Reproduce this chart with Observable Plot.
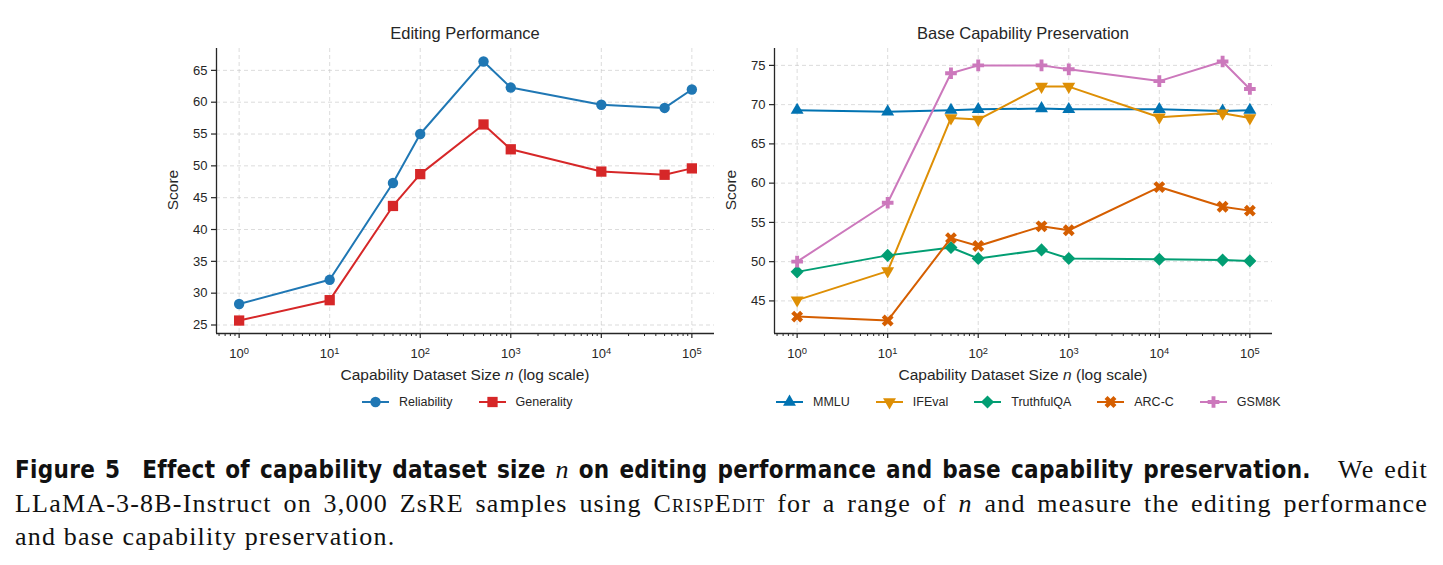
<!DOCTYPE html>
<html>
<head>
<meta charset="utf-8">
<script src="https://cdn.jsdelivr.net/npm/d3@7"></script>
<script src="https://cdn.jsdelivr.net/npm/@observablehq/plot@0.6"></script>
<style>
  html, body { margin: 0; padding: 0; background: #fff; }
  body { width: 1443px; height: 565px; position: relative; overflow: hidden;
         font-family: "Liberation Sans", Arial, Helvetica, sans-serif; color: #262626; }
  .abs { position: absolute; white-space: nowrap; }
  .title { font-size: 16.5px; line-height: 20px; transform: translateX(-50%); }
  .xlabel { font-size: 15.5px; line-height: 20px; transform: translateX(-50%); }
  .ylabel { font-size: 15.5px; line-height: 20px; transform: translate(-50%, -50%) rotate(-90deg); }
  .legend { display: flex; align-items: center; font-size: 12.5px; height: 16px; }
  .legend .item { display: flex; align-items: center; margin-right: 26px; }
  .legend svg { margin-right: 10px; overflow: visible; }
  .cap { left: 15px; width: 1413px; font-family: "Liberation Serif", "DejaVu Serif", serif;
         font-size: 26px; line-height: 33px; color: #111; letter-spacing: 1.2px; }
  .just { text-align: justify; text-align-last: justify; }
  .sfb { font-family: "Liberation Sans Narrow", "DejaVu Sans Condensed", "Liberation Sans", sans-serif;
         font-stretch: condensed; font-weight: bold; letter-spacing: 0.3px; font-size: 24px; }
  .sc { font-variant: small-caps; }
</style>
</head>
<body>
<div id="left" class="abs" style="left:150px; top:40px;"></div>
<div id="right" class="abs" style="left:708px; top:40px;"></div>

<div class="abs title" style="left:465px; top:23px;">Editing Performance</div>
<div class="abs title" style="left:1023px; top:23px;">Base Capability Preservation</div>

<div class="abs ylabel" style="left:173px; top:190px;">Score</div>
<div class="abs ylabel" style="left:731px; top:190px;">Score</div>

<div class="abs xlabel" style="left:465px; top:365px;">Capability Dataset Size <i>n</i> (log scale)</div>
<div class="abs xlabel" style="left:1023px; top:365px;">Capability Dataset Size <i>n</i> (log scale)</div>

<div id="legLeft" class="abs legend" style="left:362px; top:394px;"></div>
<div id="legRight" class="abs legend" style="left:776px; top:394px;"></div>

<div class="abs cap just" style="top:453px;"><span class="sfb">Figure 5&emsp;Effect of capability dataset size <i style="font-family:'Liberation Serif',serif;font-weight:normal;font-size:26px;">n</i> on editing performance and base capability preservation.</span>&emsp;We edit</div>
<div class="abs cap just" style="top:487px;">LLaMA-3-8B-Instruct on 3,000 ZsRE samples using <span class="sc">CrispEdit</span> for a range of <i>n</i> and measure the editing performance</div>
<div class="abs cap" style="top:520px;">and base capability preservation.</div>

<script>
// ---------------- Data ----------------
const ns = [1, 10, 50, 100, 500, 1000, 10000, 50000, 100000];

// Editing performance
const reliability = [28.3, 32.1, 47.3, 55.0, 66.4, 62.3, 59.6, 59.1, 62.0];
const generality  = [25.7, 28.9, 43.7, 48.7, 56.5, 52.6, 49.1, 48.6, 49.6];

// Base capability preservation
const mmlu       = [69.3, 69.1, 69.3, 69.4, 69.5, 69.4, 69.4, 69.2, 69.3];
const ifeval     = [45.1, 48.8, 68.3, 68.1, 72.3, 72.3, 68.4, 68.9, 68.3];
const truthfulqa = [48.7, 50.8, 51.8, 50.4, 51.5, 50.4, 50.3, 50.2, 50.1];
const arcc       = [43.0, 42.5, 53.0, 52.0, 54.5, 54.0, 59.5, 57.0, 56.5];
const gsm8k      = [50.0, 57.5, 74.0, 75.0, 75.0, 74.5, 73.0, 75.5, 72.0];

const leftNames  = ["Reliability", "Generality"];
const rightNames = ["MMLU", "IFEval", "TruthfulQA", "ARC-C", "GSM8K"];

// Tick values
const xMajorTicks = [1, 10, 100, 1000, 10000, 100000];
const xMinorTicks = [0.6, 0.7, 0.8, 0.9].concat(
  [1, 10, 100, 1000, 10000].flatMap(d => [2, 3, 4, 5, 6, 7, 8, 9].map(m => m * d)));
const yTicksLeft  = [25, 30, 35, 40, 45, 50, 55, 60, 65];
const yTicksRight = [45, 50, 55, 60, 65, 70, 75];

// ---------------- Symbols ----------------
const SQ3 = Math.sqrt(3);
const triangleDown = {
  draw(ctx, size) {
    const y = -Math.sqrt(size / (SQ3 * 3));
    ctx.moveTo(0, -y * 2);
    ctx.lineTo(-SQ3 * y, y);
    ctx.lineTo(SQ3 * y, y);
    ctx.closePath();
  }
};
const xFilled = {
  draw(ctx, size) {
    const r = Math.sqrt(size / 5) / 2;
    const pts = [[-3,-1],[-1,-1],[-1,-3],[1,-3],[1,-1],[3,-1],[3,1],[1,1],[1,3],[-1,3],[-1,1],[-3,1]];
    const c = Math.SQRT1_2;
    pts.forEach(([a, b], i) => {
      const x = (a - b) * c * r, y = (a + b) * c * r;
      if (i) ctx.lineTo(x, y); else ctx.moveTo(x, y);
    });
    ctx.closePath();
  }
};

const leftSeries = [
  {name: leftNames[0], values: reliability, color: "#1f77b4", symbol: "circle", r: 5.2},
  {name: leftNames[1], values: generality,  color: "#d62728", symbol: "square", r: 5.8}
];
const rightSeries = [
  {name: rightNames[0], values: mmlu,       color: "#0173b2", symbol: "triangle", r: 4.8},
  {name: rightNames[1], values: ifeval,     color: "#de8f05", symbol: triangleDown, r: 4.8},
  {name: rightNames[2], values: truthfulqa, color: "#029e73", symbol: "diamond2", r: 5.9},
  {name: rightNames[3], values: arcc,       color: "#d55e00", symbol: xFilled, r: 5.3},
  {name: rightNames[4], values: gsm8k,      color: "#cc78bc", symbol: "cross", r: 4.9}
];

function seriesMarks(series) {
  return series.flatMap(s => {
    const rows = ns.map((n, i) => ({n, v: s.values[i]}));
    return [
      Plot.line(rows, {x: "n", y: "v", stroke: s.color, strokeWidth: 2}),
      Plot.dot(rows, {x: "n", y: "v", fill: s.color, stroke: "none", symbol: s.symbol, r: s.r})
    ];
  });
}

const xDomain = [Math.pow(10, -0.25), Math.pow(10, 5.25)];

function makeChart(series, yDomain, yTicks) {
  const gridStyle = {stroke: "#c8c8c8", strokeOpacity: 0.8, strokeWidth: 0.8, strokeDasharray: "4,3"};
  const svg = Plot.plot({
    width: 570, height: 330,
    marginLeft: 66, marginRight: 6, marginTop: 8, marginBottom: 37,
    style: {fontFamily: "'Liberation Sans', Arial, sans-serif", fontSize: "13px", color: "#262626", background: "transparent", overflow: "visible"},
    x: {type: "log", domain: xDomain},
    y: {domain: yDomain},
    marks: [
      Plot.gridX(xMajorTicks, gridStyle),
      Plot.gridY(yTicks, gridStyle),
      Plot.axisY(yTicks, {tickSize: 5, tickPadding: 4, label: null, stroke: "#262626", strokeWidth: 1.2}),
      Plot.axisX(xMinorTicks, {tickSize: 3, tickFormat: () => "", label: null, stroke: "#262626", strokeWidth: 1}),
      Plot.axisX(xMajorTicks, {tickSize: 5, tickPadding: 10, label: null, stroke: "#262626", strokeWidth: 1.2,
        tickFormat: d => String(Math.round(Math.log10(d)))}),
      Plot.ruleX([xDomain[0]], {stroke: "#262626", strokeWidth: 1.3}),
      Plot.ruleY([yDomain[0]], {stroke: "#262626", strokeWidth: 1.3}),
      ...seriesMarks(series)
    ]
  });
  // render 10^k with superscript exponents
  svg.querySelectorAll('g[aria-label="x-axis tick label"] text').forEach(t => {
    const e = t.textContent;
    if (!e) return;
    t.textContent = "10";
    const ts = document.createElementNS("http://www.w3.org/2000/svg", "tspan");
    ts.setAttribute("dy", "-0.45em");
    ts.setAttribute("font-size", "0.72em");
    ts.textContent = e;
    t.appendChild(ts);
  });
  return svg;
}

document.getElementById("left").appendChild(makeChart(leftSeries, [23.665, 68.435], yTicksLeft));
document.getElementById("right").appendChild(makeChart(rightSeries, [40.85, 77.15], yTicksRight));

// ---------------- Legends ----------------
function symbolPath(sym, r) {
  const type = typeof sym === "object" ? sym :
    ({circle: d3.symbolCircle, square: d3.symbolSquare, triangle: d3.symbolTriangle,
      diamond2: d3.symbolDiamond2, cross: d3.symbolCross})[sym];
  return d3.symbol(type, r * r * Math.PI)();
}
function makeLegend(el, series) {
  series.forEach(s => {
    const item = document.createElement("div");
    item.className = "item";
    item.innerHTML =
      `<svg width="27" height="16" viewBox="0 0 27 16">
         <line x1="0" x2="27" y1="8" y2="8" stroke="${s.color}" stroke-width="2"/>
         <path transform="translate(13.5,8)" d="${symbolPath(s.symbol, s.r)}" fill="${s.color}"/>
       </svg><span>${s.name}</span>`;
    el.appendChild(item);
  });
}
makeLegend(document.getElementById("legLeft"), leftSeries);
makeLegend(document.getElementById("legRight"), rightSeries);
</script>
</body>
</html>
